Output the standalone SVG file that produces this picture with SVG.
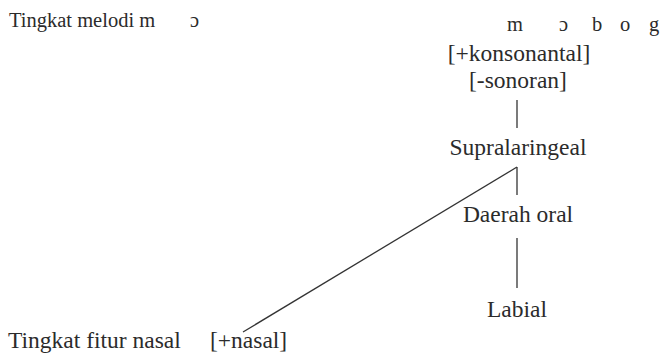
<svg xmlns="http://www.w3.org/2000/svg" width="663" height="359" viewBox="0 0 663 359">
<style>
text{font-family:"Liberation Serif","Times New Roman",serif;fill:#2b2b2b}
.s{font-size:20.5px}
.b{font-size:23.5px}
.c{text-anchor:middle}
.ln{stroke:#333;stroke-width:1.3;fill:none}
</style>
<rect width="663" height="359" fill="#fff"/>
<g id="melody-label"><text class="s" x="9" y="27">Tingkat melodi m</text><text class="s" x="190" y="27">ɔ</text></g>
<g id="melody-segments">
<text class="s" x="507" y="31">m</text>
<text class="s" x="559" y="31">ɔ</text>
<text class="s" x="592" y="31">b</text>
<text class="s" x="620" y="31">o</text>
<text class="s" x="649" y="31">g</text>
</g>
<g id="root-features">
<text class="b c" x="519" y="61">[+konsonantal]</text>
<text class="b c" x="518" y="88">[-sonoran]</text>
</g>
<g id="supralaringeal"><text class="b c" x="518" y="155">Supralaringeal</text></g>
<g id="daerah-oral"><text class="b c" x="518" y="222">Daerah oral</text></g>
<g id="labial"><text class="b c" x="517" y="317">Labial</text></g>
<g id="nasal-label"><text class="b" x="8" y="348">Tingkat fitur nasal</text></g>
<g id="nasal"><text class="b" x="210" y="348">[+nasal]</text></g>
<g id="connectors">
<line class="ln" x1="517" y1="100" x2="517" y2="128"/>
<line class="ln" x1="517" y1="167" x2="517" y2="195"/>
<line class="ln" x1="517" y1="167" x2="243" y2="332"/>
<line class="ln" x1="517" y1="238" x2="517" y2="288"/>
</g>
</svg>
